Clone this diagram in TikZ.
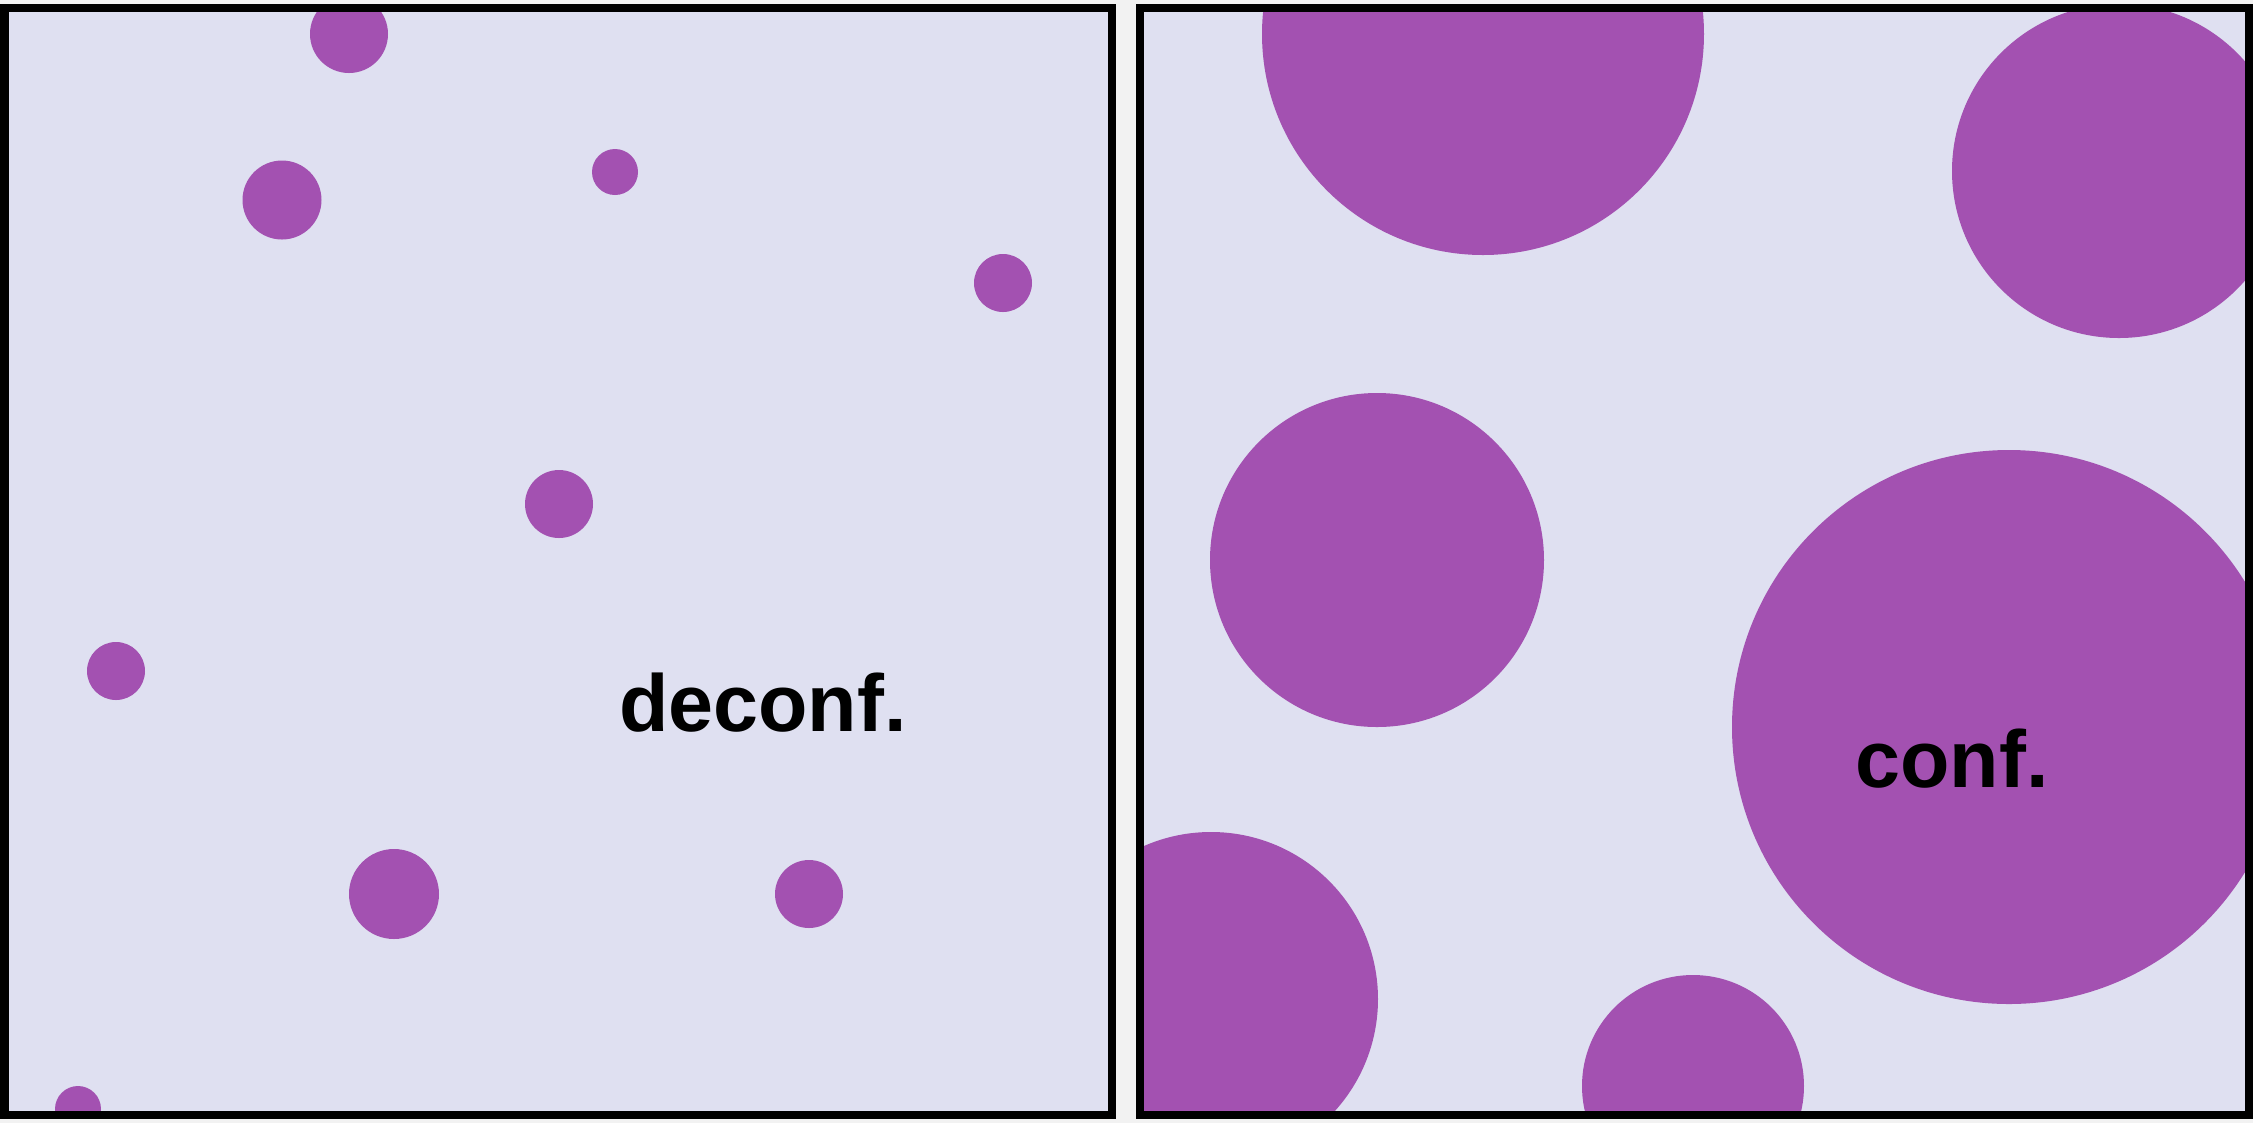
\documentclass[tikz,border=0pt]{standalone}
\usepackage{fontspec}
\setmainfont{Liberation Sans}
\usepackage{tikz}
\usetikzlibrary{positioning}
\definecolor{boxfill}{HTML}{DFE0F1}
\definecolor{blob}{HTML}{A351B1}
\definecolor{pagegray}{HTML}{F2F2F2}

\begin{document}
\begin{tikzpicture}[x=0.01cm,y=-0.01cm,
  panel/.style={draw=black,line width=2.3pt},
  phasetext/.style={font=\fontsize{23}{28}\selectfont\bfseries,inner sep=0pt}]
\fill[pagegray] (0,0) rectangle (2253,1123);
\useasboundingbox (0,0) rectangle (2253,1123);
% Left panel: deconfined phase, small dilute bubbles
\begin{scope}
\clip (4.5,8) rectangle (1112,1115);
\fill[boxfill] (4.5,8) rectangle (1112,1115);
\foreach \cx/\cy/\r in {349/34/39, 282/200/39.5, 615/172/23, 1003/283/29,
  559/504/34, 116/671/29, 394/894/45, 809/894/34, 78/1109/23}
  \fill[blob] (\cx,\cy) circle[radius=\r];
\end{scope}
% Right panel: confined phase, large bubbles
\begin{scope}
\clip (1140,8) rectangle (2249,1115);
\fill[boxfill] (1140,8) rectangle (2249,1115);
\foreach \cx/\cy/\r in {1483/34/221, 2119/171/167, 1377/560/167,
  2009/727/277, 1211/999/167, 1693/1086/111}
  \fill[blob] (\cx,\cy) circle[radius=\r];
\end{scope}
% Frames
\draw[panel] (4.5,8) rectangle (1112,1115);
\draw[panel] (1140,8) rectangle (2249,1115);
% Labels
\node[phasetext] (deconf) at (763,703) {deconf.};
\node[phasetext] (conf) at (1952,759) {conf.};
\end{tikzpicture}
\end{document}
